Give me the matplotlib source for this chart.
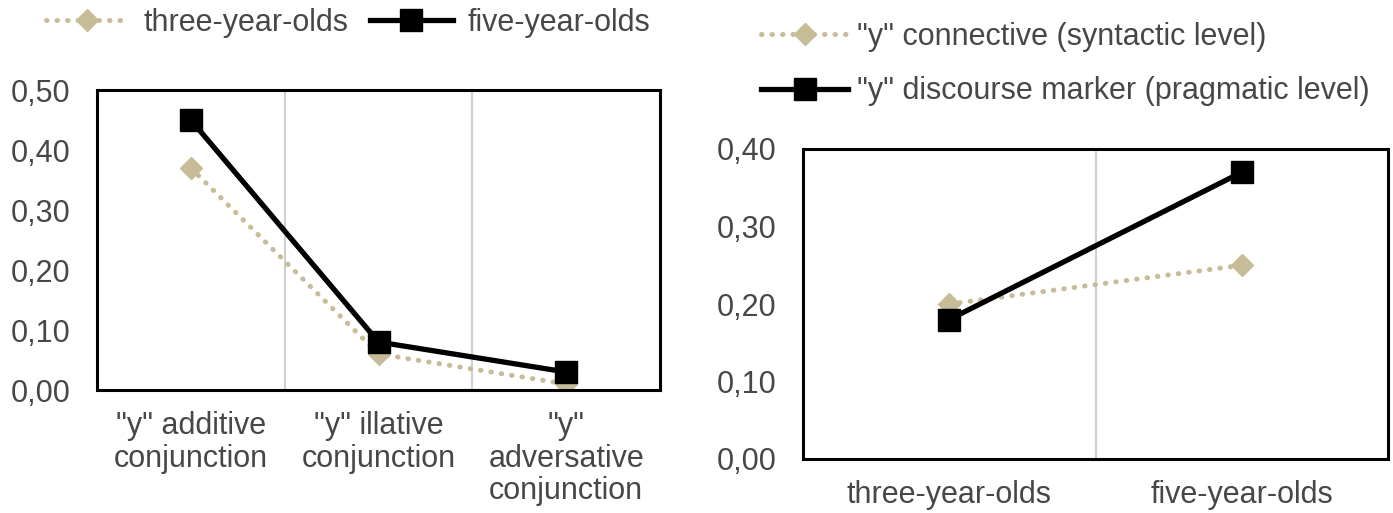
import numpy as np
import matplotlib
matplotlib.use("Agg")
import matplotlib.pyplot as plt

# data
conj_labels = ['"y" additive\nconjunction', '"y" illative\nconjunction', '"y"\nadversative\nconjunction']
three_conj = [0.37, 0.06, 0.01]
five_conj = [0.45, 0.08, 0.03]

age_labels = ['three-year-olds', 'five-year-olds']
connective = [0.20, 0.25]
discourse = [0.18, 0.37]

left_ticks = [0.0, 0.1, 0.2, 0.3, 0.4, 0.5]
right_ticks = [0.0, 0.1, 0.2, 0.3, 0.4]

plt.rcParams['font.family'] = ['Liberation Sans', 'DejaVu Sans']
TAN = '#c6bc98'
TXT = '#474747'
FS = 22

def style_axes(ax, ticks, ncat):
    ax.set_xlim(-0.5, ncat - 0.5)
    ax.set_ylim(ticks[0], ticks[-1])
    ax.set_yticks(ticks)
    ax.yaxis.set_major_formatter(plt.FuncFormatter(lambda v, p: ('%.2f' % v).replace('.', ',')))
    ax.tick_params(length=0, labelsize=FS, labelcolor=TXT)
    ax.tick_params(axis='y', pad=19)
    ax.tick_params(axis='x', pad=15)
    for s in ax.spines.values():
        s.set_linewidth(2.2)
        s.set_color('black')
    for b in np.arange(0.5, ncat - 0.5, 1):
        ax.axvline(b, color='#cfcfcf', lw=1.5, zorder=0)

def dotted(ax, x, y, label):
    line, = ax.plot(x, y, color=TAN, lw=3.6, marker='D', markersize=11,
                    markeredgecolor=TAN, label=label, zorder=2)
    line.set_dashes((0.1, 2.0))
    line.set_dash_capstyle('round')
    return line

fig = plt.figure(figsize=(13.93, 5.13), dpi=100)

# left panel
ax1 = fig.add_axes([97/1393, 1-390/513, 563/1393, 300/513])
x1 = np.arange(len(conj_labels))
dotted(ax1, x1, three_conj, 'three-year-olds')
ax1.plot(x1, five_conj, color='black', lw=3.8, marker='s', markersize=16,
         label='five-year-olds', zorder=3)
style_axes(ax1, left_ticks, len(conj_labels))
ax1.set_xticks(x1)
ax1.set_xticklabels(conj_labels, linespacing=1.12)
ax1.legend(loc='center left', bbox_to_anchor=(46/1393, 1-23/513), bbox_transform=fig.transFigure,
           ncol=2, frameon=False, fontsize=FS, labelcolor=TXT, handlelength=2.7,
           handletextpad=0.5, columnspacing=0.7, borderaxespad=0, borderpad=0)

# right panel
ax2 = fig.add_axes([803/1393, 1-459/513, 585/1393, 310/513])
x2 = np.arange(len(age_labels))
dotted(ax2, x2, connective, '"y" connective (syntactic level)')
ax2.plot(x2, discourse, color='black', lw=3.8, marker='s', markersize=16,
         label='"y" discourse marker (pragmatic level)', zorder=3)
style_axes(ax2, right_ticks, len(age_labels))
ax2.set_xticks(x2)
ax2.set_xticklabels(age_labels)
ax2.legend(loc='center left', bbox_to_anchor=(761/1393, 1-64/513), bbox_transform=fig.transFigure,
           ncol=1, frameon=False, fontsize=FS, labelcolor=TXT, handlelength=2.85,
           handletextpad=0.3, labelspacing=0.8, borderaxespad=0, borderpad=0)

fig.savefig('out.png', dpi=100)
